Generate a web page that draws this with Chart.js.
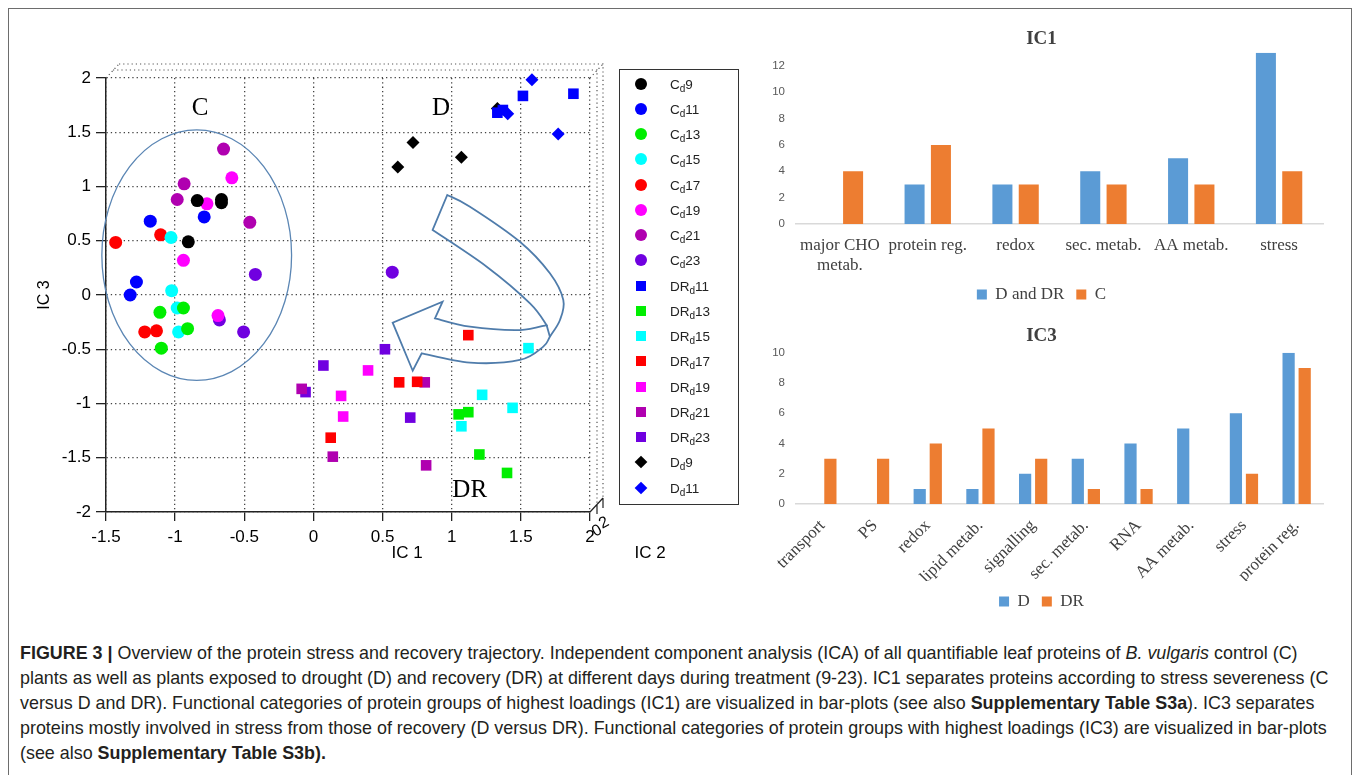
<!DOCTYPE html>
<html>
<head>
<meta charset="utf-8">
<script src="https://cdn.jsdelivr.net/npm/chart.js@4.4.1/dist/chart.umd.min.js"></script>
<style>
  body { margin: 0; background: #fff; width: 1358px; height: 775px; overflow: hidden; position: relative; font-family: "Liberation Sans", Arial, sans-serif; }
  #frame { position: absolute; left: 8px; top: 8px; width: 1344px; height: 800px; border: 1.5px solid #6d6d6d; box-sizing: border-box; }
  #scatter { position: absolute; left: 0; top: 0; }
  #ic1 { position: absolute; left: 760px; top: 18px; }
  #ic3 { position: absolute; left: 760px; top: 318px; }
  #legendBox { position: absolute; left: 619px; top: 69px; width: 120px; height: 436px; border: 1.5px solid #333; box-sizing: border-box; padding-top: 1px; }
  .row { height: 25.25px; position: relative; }
  .mk { position: absolute; left: 21px; top: 50%; transform: translate(-50%, -50%); }
  .mk.circle { width: 12px; height: 12px; border-radius: 50%; }
  .mk.rect { width: 10px; height: 10px; }
  .mk.rectRot { width: 9px; height: 9px; transform: translate(-50%, -50%) rotate(45deg); }
  .lbl { position: absolute; left: 50px; top: 50%; transform: translateY(-50%); font-size: 13.5px; color: #222; }
  .lbl sub { font-size: 10px; vertical-align: -3px; line-height: 0; }
  #caption { position: absolute; left: 20px; top: 641px; font-size: 17.9px; line-height: 25px; color: #231f20; white-space: nowrap; }
</style>
</head>
<body>
<div id="frame"></div>
<canvas id="scatter" width="700" height="580"></canvas>
<div id="legendBox"></div>
<canvas id="ic1" width="590" height="295"></canvas>
<canvas id="ic3" width="590" height="302"></canvas>
<div id="caption">
<b>FIGURE 3 |</b> Overview of the protein stress and recovery trajectory. Independent component analysis (ICA) of all quantifiable leaf proteins of <i>B. vulgaris</i> control (C)<br>
plants as well as plants exposed to drought (D) and recovery (DR) at different days during treatment (9-23). IC1 separates proteins according to stress severeness (C<br>
versus D and DR). Functional categories of protein groups of highest loadings (IC1) are visualized in bar-plots (see also <b>Supplementary Table S3a</b>). IC3 separates<br>
proteins mostly involved in stress from those of recovery (D versus DR). Functional categories of protein groups with highest loadings (IC3) are visualized in bar-plots<br>
(see also <b>Supplementary Table S3b).</b>
</div>

<script>
//Puntuaciones [IC1, IC3] por grupo
const cd9   = [[-0.84, 0.87], [-0.665, 0.88], [-0.665, 0.85], [-0.905, 0.49]];
const cd11  = [[-1.18, 0.68], [-0.79, 0.72], [-1.28, 0.12], [-1.325, 0.0]];
const cd13  = [[-1.11, -0.16], [-0.94, -0.12], [-0.91, -0.31], [-1.10, -0.49]];
const cd15  = [[-1.03, 0.53], [-1.025, 0.04], [-0.985, -0.12], [-0.975, -0.34]];
const cd17  = [[-1.43, 0.485], [-1.105, 0.555], [-1.22, -0.34], [-1.135, -0.33]];
const cd19  = [[-0.59, 1.08], [-0.77, 0.84], [-0.94, 0.32], [-0.69, -0.19]];
const cd21  = [[-0.65, 1.345], [-0.935, 1.025], [-0.985, 0.88], [-0.46, 0.67]];
const cd23  = [[-0.42, 0.19], [-0.68, -0.23], [-0.505, -0.34], [0.57, 0.21]];
const drd11 = [[1.33, 1.68], [1.37, 1.705], [1.515, 1.835], [1.88, 1.855]];
const drd13 = [[1.05, -1.10], [1.12, -1.08], [1.20, -1.47], [1.40, -1.64]];
const drd15 = [[1.22, -0.92], [1.44, -1.04], [1.07, -1.21], [1.555, -0.49]];
const drd17 = [[1.12, -0.37], [0.62, -0.805], [0.75, -0.80], [0.125, -1.315]];
const drd19 = [[0.395, -0.695], [0.20, -0.93], [0.215, -1.12]];
const drd21 = [[-0.085, -0.865], [0.805, -0.805], [0.14, -1.49], [0.815, -1.57]];
const drd23 = [[0.517, -0.50], [0.072, -0.65], [-0.057, -0.895], [0.70, -1.13]];
const dd9   = [[0.61, 1.18], [0.72, 1.405], [1.07, 1.27], [1.33, 1.72]];
const dd11  = [[1.58, 1.985], [1.77, 1.485], [1.405, 1.67]];

//Ticks de los ejes
const axisTicks = [-2, -1.5, -1, -0.5, 0, 0.5, 1, 1.5, 2];

//Barras IC1
const ic1Categories = [["major CHO", "metab."], "protein reg.", "redox", "sec. metab.", "AA metab.", "stress"];
const ic1DandDR = [0, 3, 3, 4, 5, 13];
const ic1C      = [4, 6, 3, 3, 3, 4];
const ic1Ticks  = [0, 2, 4, 6, 8, 10, 12];

//Barras IC3
const ic3Categories = ["transport", "PS", "redox", "lipid metab.", "signalling", "sec. metab.", "RNA", "AA metab.", "stress", "protein reg."];
const ic3D  = [0, 0, 1, 1, 2, 3, 4, 5, 6, 10];
const ic3DR = [3, 3, 4, 5, 3, 1, 1, 0, 2, 9];
const ic3Ticks = [0, 2, 4, 6, 8, 10];

const groups = [
    { name: "C",  day: "9",  pts: cd9,   color: "#000000", style: "circle" },
    { name: "C",  day: "11", pts: cd11,  color: "#0000ff", style: "circle" },
    { name: "C",  day: "13", pts: cd13,  color: "#00ee00", style: "circle" },
    { name: "C",  day: "15", pts: cd15,  color: "#00ffff", style: "circle" },
    { name: "C",  day: "17", pts: cd17,  color: "#ff0000", style: "circle" },
    { name: "C",  day: "19", pts: cd19,  color: "#ff00ff", style: "circle" },
    { name: "C",  day: "21", pts: cd21,  color: "#b000b0", style: "circle" },
    { name: "C",  day: "23", pts: cd23,  color: "#7000e0", style: "circle" },
    { name: "DR", day: "11", pts: drd11, color: "#0000ff", style: "rect" },
    { name: "DR", day: "13", pts: drd13, color: "#00ee00", style: "rect" },
    { name: "DR", day: "15", pts: drd15, color: "#00ffff", style: "rect" },
    { name: "DR", day: "17", pts: drd17, color: "#ff0000", style: "rect" },
    { name: "DR", day: "19", pts: drd19, color: "#ff00ff", style: "rect" },
    { name: "DR", day: "21", pts: drd21, color: "#b000b0", style: "rect" },
    { name: "DR", day: "23", pts: drd23, color: "#7000e0", style: "rect" },
    { name: "D",  day: "9",  pts: dd9,   color: "#000000", style: "rectRot", order: 1 },
    { name: "D",  day: "11", pts: dd11,  color: "#0000ff", style: "rectRot" }
];

const serif = "'Liberation Serif', 'Times New Roman', serif";
const sans = "'Liberation Sans', Arial, sans-serif";

//Leyenda HTML (con subíndices)
const legendBox = document.getElementById("legendBox");
groups.forEach(g => {
    const row = document.createElement("div");
    row.className = "row";
    row.innerHTML = `<span class="mk ${g.style}" style="background:${g.color}"></span>` +
        `<span class="lbl">${g.name}<sub>d</sub>${g.day}</span>`;
    legendBox.appendChild(row);
});

//Curva suave por puntos
function smooth(ctx, pts) {
    for (let i = 0; i < pts.length - 1; i++) {
        const p0 = pts[i - 1] || pts[i], p1 = pts[i], p2 = pts[i + 1], p3 = pts[i + 2] || p2;
        ctx.bezierCurveTo(
            p1[0] + (p2[0] - p0[0]) / 6, p1[1] + (p2[1] - p0[1]) / 6,
            p2[0] - (p3[0] - p1[0]) / 6, p2[1] - (p3[1] - p1[1]) / 6,
            p2[0], p2[1]);
    }
}

//Decoración: caja 3D, elipse, flecha y textos
const scatterDecor = {
    id: "scatterDecor",
    afterDatasetsDraw(chart) {
        const { ctx, chartArea: a, scales: { x, y } } = chart;
        const P = ([vx, vy]) => [x.getPixelForValue(vx), y.getPixelForValue(vy)];
        ctx.save();

        //planos traseros (eje IC2)
        ctx.strokeStyle = "#555";
        ctx.lineWidth = 1.2;
        ctx.setLineDash([1.2, 3]);
        [[7, -8], [13, -14]].forEach(([dx, dy]) => {
            ctx.beginPath();
            ctx.moveTo(a.left + dx, a.top + dy);
            ctx.lineTo(a.right + dx, a.top + dy);
            ctx.lineTo(a.right + dx, a.bottom + dy);
            ctx.stroke();
        });
        ctx.beginPath();
        ctx.moveTo(a.left, a.top);
        ctx.lineTo(a.left + 13, a.top - 14);
        ctx.moveTo(a.right, a.top);
        ctx.lineTo(a.right + 13, a.top - 14);
        ctx.stroke();
        ctx.setLineDash([]);

        //eje IC2
        ctx.strokeStyle = "#222";
        ctx.lineWidth = 1.2;
        ctx.beginPath();
        ctx.moveTo(a.right, a.bottom);
        ctx.lineTo(a.right + 13, a.bottom - 14);
        ctx.moveTo(a.right + 7, a.bottom - 8);
        ctx.lineTo(a.right + 7, a.bottom + 2);
        ctx.moveTo(a.right + 13, a.bottom - 14);
        ctx.lineTo(a.right + 13, a.bottom - 4);
        ctx.stroke();
        ctx.fillStyle = "#000";
        ctx.font = "16px " + sans;
        ctx.textAlign = "center";
        ctx.textBaseline = "middle";
        ctx.save();
        ctx.translate(a.right + 7, a.bottom + 19);
        ctx.rotate(-0.5);
        ctx.fillText("0", 0, 0);
        ctx.restore();
        ctx.save();
        ctx.translate(a.right + 14, a.bottom + 11);
        ctx.rotate(-0.5);
        ctx.fillText("2", 0, 0);
        ctx.restore();

        //títulos de ejes IC1 / IC2
        ctx.font = "17px " + sans;
        ctx.fillText("IC 1", a.left + 301, a.bottom + 41);
        ctx.fillText("IC 2", a.right + 60, a.bottom + 41);

        //elipse del grupo C
        ctx.strokeStyle = "#5b86b4";
        ctx.lineWidth = 1.3;
        const c = P([-0.844, 0.367]);
        const rx = x.getPixelForValue(-0.844 + 0.686) - c[0];
        const ry = c[1] - y.getPixelForValue(0.367 + 1.154);
        ctx.beginPath();
        ctx.ellipse(c[0], c[1], rx, ry, 0, 0, Math.PI * 2);
        ctx.stroke();

        //flecha curva
        const outer = [[0.968, 0.922], [1.132, 0.814], [1.493, 0.491], [1.71, 0.2], [1.807, -0.046], [1.783, -0.23],
                       [1.71, -0.384], [1.662, -0.476], [1.493, -0.599], [1.132, -0.624], [0.783, -0.538]].map(P);
        const head = [[0.718, -0.698], [0.573, -0.255], [0.934, -0.062], [0.879, -0.215]].map(P);
        const innerBack = [[0.879, -0.215], [1.132, -0.292], [1.493, -0.323], [1.686, -0.277]].map(P);
        const innerDown = [[1.686, -0.277], [1.566, -0.077], [1.253, 0.261], [0.862, 0.599]].map(P);
        ctx.lineWidth = 1.8;
        ctx.strokeStyle = "#4f7cab";
        ctx.beginPath();
        ctx.moveTo(outer[0][0], outer[0][1]);
        smooth(ctx, outer);
        head.forEach(p => ctx.lineTo(p[0], p[1]));
        smooth(ctx, innerBack);
        smooth(ctx, innerDown);
        ctx.closePath();
        ctx.stroke();
        const f1 = P([1.686, -0.277]), f2 = P([1.71, -0.384]);
        ctx.beginPath();
        ctx.moveTo(f1[0], f1[1]);
        ctx.lineTo(f2[0], f2[1]);
        ctx.stroke();

        //etiquetas de grupo
        ctx.fillStyle = "#000";
        ctx.font = "25px " + serif;
        [["C", -0.82, 1.72], ["D", 0.922, 1.72], ["DR", 1.13, -1.8]].forEach(([t, vx, vy]) => {
            const p = P([vx, vy]);
            ctx.fillText(t, p[0], p[1]);
        });
        ctx.restore();
    }
};

const dotted = { color: "#444", lineWidth: 1.3, tickColor: "#222", tickWidth: 1.3, tickBorderDash: [] };

new Chart(document.getElementById("scatter"), {
    type: "scatter",
    data: {
        datasets: groups.map(g => ({
            label: g.name + g.day,
            data: g.pts.map(p => ({ x: p[0], y: p[1] })),
            pointStyle: g.style,
            backgroundColor: g.color,
            borderWidth: 0,
            pointRadius: g.style === "circle" ? 6.5 : (g.style === "rect" ? 7.5 : 6.5),
            order: g.order || 0,
            clip: false
        }))
    },
    options: {
        responsive: false,
        animation: false,
        layout: { padding: { left: 31, top: 78, right: 110, bottom: 13 } },
        plugins: { legend: { display: false }, tooltip: { enabled: false } },
        scales: {
            x: {
                type: "linear", min: -1.5, max: 2,
                afterBuildTicks: s => { s.ticks = axisTicks.filter(v => v >= -1.5).map(v => ({ value: v })); },
                afterFit: s => { s.height = 55; },
                grid: { ...dotted, tickLength: 9 },
                border: { color: "#222", width: 1.5, dash: [1.3, 3] },
                ticks: { color: "#000", font: { family: sans, size: 17 }, padding: 6, callback: v => String(v) }
            },
            y: {
                type: "linear", min: -2, max: 2,
                afterBuildTicks: s => { s.ticks = axisTicks.map(v => ({ value: v })); },
                afterFit: s => { s.width = 75; },
                grid: { ...dotted, tickLength: 10 },
                border: { color: "#222", width: 1.5, dash: [1.3, 3] },
                ticks: { color: "#000", font: { family: sans, size: 17 }, padding: 5, callback: v => String(v) },
                title: { display: true, text: "IC 3", color: "#000", font: { family: sans, size: 16 } }
            }
        }
    },
    plugins: [scatterDecor]
});

//Gráfica de barras
function barChart(id, title, labels, series, yMax, yTicks, xRot, pad) {
    return new Chart(document.getElementById(id), {
        type: "bar",
        data: {
            labels: labels,
            datasets: series.map(s => ({ label: s.label, data: s.data, backgroundColor: s.color }))
        },
        options: {
            responsive: false,
            animation: false,
            layout: { padding: { left: 0, right: 27, top: 0, bottom: pad.bottom } },
            datasets: { bar: { categoryPercentage: pad.cat, barPercentage: 0.76 } },
            plugins: {
                title: { display: true, text: title, color: "#404040", font: { family: serif, size: 19, weight: "bold" }, padding: { top: pad.tTop, bottom: pad.tBottom } },
                legend: { position: "bottom", labels: { boxWidth: 10, boxHeight: 10, color: "#404040", font: { family: serif, size: 17 }, padding: 12 } },
                tooltip: { enabled: false }
            },
            scales: {
                x: {
                    grid: { display: false },
                    border: { color: "#d9d9d9", width: 1.5 },
                    ticks: { color: "#404040", font: { family: serif, size: 17, lineHeight: 1.15 }, maxRotation: xRot, minRotation: xRot, autoSkip: false, padding: pad.lp },
                    afterFit: s => { s.height = pad.xh; }
                },
                y: {
                    min: 0, max: yMax,
                    afterBuildTicks: s => { s.ticks = yTicks.map(v => ({ value: v })); },
                    afterFit: s => { s.width = 36; },
                    grid: { display: false },
                    border: { display: false },
                    ticks: { color: "#595959", font: { family: sans, size: 11.5 } }
                }
            }
        }
    });
}

barChart("ic1", "IC1", ic1Categories, [
    { label: "D and DR", data: ic1DandDR, color: "#5b9bd5" },
    { label: "C", data: ic1C, color: "#ed7d31" }
], 13, ic1Ticks, 0, { bottom: 0, tTop: 10, tBottom: 2, xh: 50, lp: 4, cat: 0.6 });

barChart("ic3", "IC3", ic3Categories, [
    { label: "D", data: ic3D, color: "#5b9bd5" },
    { label: "DR", data: ic3DR, color: "#ed7d31" }
], 10, ic3Ticks, 45, { bottom: 0, tTop: 7, tBottom: 5, xh: 77, lp: 4, cat: 0.61 });
</script>
</body>
</html>
